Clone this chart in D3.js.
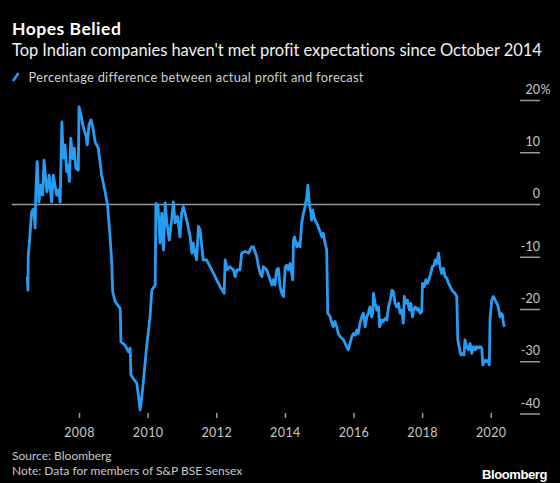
<!DOCTYPE html>
<html><head><meta charset="utf-8">
<script src="https://cdn.jsdelivr.net/npm/d3@7"></script>
<style>
html,body{margin:0;padding:0;background:#000;}
svg{display:block;background:#000;}
text{font-family:Lato,"Open Sans",sans-serif;}
</style></head>
<body><svg id="c" width="560" height="483"></svg>
<script>
const title = "Hopes Belied";
const subtitle = "Top Indian companies haven't met profit expectations since October 2014";
const legendLabel = "Percentage difference between actual profit and forecast";
const sourceText = "Source: Bloomberg";
const noteText = "Note: Data for members of S&P BSE Sensex";
const xTickYears = [2008, 2010, 2012, 2014, 2016, 2018, 2020];
const yTickValues = [20, 10, 0, -10, -20, -30, -40];

// decimal years and values (%)
const years = [2006.49,2006.51,2006.52,2006.56,2006.59,2006.62,2006.67,2006.70,2006.72,2006.74,2006.78,2006.81,2006.83,2006.89,2006.94,2006.98,2007.02,2007.06,2007.10,2007.13,2007.17,2007.20,2007.25,2007.30,2007.35,2007.40,2007.45,2007.50,2007.54,2007.59,2007.64,2007.68,2007.72,2007.76,2007.82,2007.86,2007.91,2007.98,2008.00,2008.06,2008.13,2008.20,2008.24,2008.29,2008.35,2008.40,2008.47,2008.56,2008.66,2008.76,2008.83,2008.90,2008.95,2008.98,2009.05,2009.20,2009.22,2009.34,2009.44,2009.49,2009.51,2009.58,2009.68,2009.73,2009.78,2009.82,2009.87,2009.97,2010.07,2010.12,2010.22,2010.24,2010.30,2010.36,2010.41,2010.46,2010.51,2010.56,2010.63,2010.70,2010.75,2010.80,2010.87,2010.94,2010.99,2011.04,2011.14,2011.24,2011.29,2011.33,2011.38,2011.43,2011.48,2011.53,2011.58,2011.62,2011.72,2011.82,2011.92,2012.01,2012.11,2012.23,2012.26,2012.32,2012.40,2012.50,2012.55,2012.60,2012.69,2012.74,2012.84,2012.94,2013.03,2013.08,2013.18,2013.23,2013.28,2013.33,2013.37,2013.47,2013.57,2013.62,2013.66,2013.71,2013.76,2013.81,2013.86,2013.91,2013.96,2014.01,2014.06,2014.10,2014.15,2014.20,2014.23,2014.25,2014.28,2014.35,2014.39,2014.44,2014.49,2014.54,2014.59,2014.64,2014.67,2014.71,2014.76,2014.78,2014.81,2014.86,2014.93,2015.01,2015.08,2015.12,2015.17,2015.22,2015.25,2015.32,2015.37,2015.41,2015.46,2015.51,2015.56,2015.61,2015.66,2015.71,2015.76,2015.80,2015.85,2015.90,2015.95,2016.00,2016.05,2016.10,2016.14,2016.19,2016.24,2016.29,2016.34,2016.39,2016.43,2016.48,2016.53,2016.56,2016.58,2016.63,2016.68,2016.73,2016.76,2016.83,2016.87,2016.92,2016.97,2017.02,2017.07,2017.12,2017.16,2017.21,2017.26,2017.31,2017.36,2017.41,2017.45,2017.48,2017.53,2017.57,2017.63,2017.67,2017.72,2017.75,2017.80,2017.85,2017.89,2017.94,2017.99,2018.01,2018.06,2018.11,2018.15,2018.20,2018.25,2018.30,2018.35,2018.38,2018.43,2018.48,2018.52,2018.57,2018.62,2018.67,2018.72,2018.77,2018.82,2018.87,2018.91,2018.96,2019.01,2019.04,2019.08,2019.13,2019.19,2019.22,2019.25,2019.30,2019.35,2019.40,2019.45,2019.50,2019.55,2019.59,2019.64,2019.69,2019.74,2019.77,2019.84,2019.89,2019.93,2019.96,2019.98,2020.03,2020.08,2020.13,2020.18,2020.22,2020.27,2020.29,2020.34,2020.37,2020.40];
const values = [-13.8,-16.4,-9.7,-6.8,-3.9,-1.4,-0.9,-2.6,-4.5,2.4,8.2,3.7,0.5,3.7,1.8,8.5,5.6,2.4,3.7,5.6,2.8,0.5,5.6,3.7,1.8,2.8,0.5,15.8,8.9,11.4,6.3,7.6,4.4,12.7,8.8,10.8,6.9,6.6,18.7,17.1,14.6,13.3,11.4,15.2,16.2,14.9,12.0,10.8,5.6,2.4,-0.1,-5.8,-10.9,-16.7,-18.6,-19.9,-26.3,-26.9,-28.2,-27.5,-32.6,-33.3,-34.2,-36.5,-39.3,-37.4,-34.2,-27.2,-21.5,-16.4,-15.4,0.2,-0.1,-7.4,-1.7,-8.7,0.3,-3.5,-6.8,-3.0,0.5,-3.5,-2.3,-6.2,-1.7,-0.4,-3.0,-6.2,-9.3,-7.4,-9.3,-10.6,-4.2,-4.9,-8.1,-10.6,-10.6,-11.9,-13.2,-14.4,-15.7,-17.0,-10.6,-12.5,-11.9,-12.5,-13.8,-12.5,-12.5,-9.3,-9.0,-9.3,-8.1,-8.1,-10.0,-11.9,-13.2,-13.8,-11.9,-12.5,-14.4,-15.4,-14.4,-15.4,-12.5,-12.2,-15.7,-17.0,-17.6,-11.9,-11.6,-12.5,-11.3,-13.2,-14.4,-6.8,-6.2,-8.1,-7.4,-8.1,-3.6,-1.7,-0.4,1.5,3.7,0.2,-1.7,-3.0,-1.1,-2.6,-3.6,-4.9,-6.2,-5.5,-7.4,-8.7,-20.8,-21.5,-22.7,-23.4,-22.4,-23.4,-24.7,-25.3,-25.6,-25.9,-26.6,-27.2,-27.8,-26.6,-25.3,-24.7,-25.0,-24.0,-24.7,-22.7,-21.5,-20.8,-23.4,-21.5,-20.8,-19.6,-21.5,-20.8,-17.0,-18.9,-20.2,-19.6,-23.4,-22.1,-22.4,-21.8,-22.1,-19.6,-18.3,-16.4,-16.7,-18.9,-19.6,-18.9,-20.8,-20.2,-22.7,-17.6,-18.9,-18.3,-20.2,-18.9,-21.5,-20.2,-19.6,-20.2,-19.9,-20.8,-20.5,-15.1,-15.7,-14.4,-15.1,-14.4,-13.2,-11.9,-11.6,-10.6,-11.3,-9.3,-11.9,-13.2,-12.2,-13.8,-14.1,-15.1,-15.7,-16.4,-16.7,-17.0,-17.6,-25.9,-27.2,-28.8,-28.5,-28.8,-25.9,-27.2,-27.8,-26.6,-28.5,-27.2,-27.8,-27.2,-27.5,-27.2,-27.5,-30.7,-29.8,-30.1,-29.8,-30.7,-22.1,-18.3,-17.6,-18.3,-18.9,-19.6,-21.5,-20.8,-21.1,-22.7,-23.4];

function yearToDate(y) {
  const yr = Math.floor(y);
  const start = new Date(yr, 0, 1), end = new Date(yr + 1, 0, 1);
  return new Date(+start + (y - yr) * (end - start));
}
const data = years.map((y, i) => ({ date: yearToDate(y), value: values[i] }));

const svg = d3.select("#c");
const blue = "#279cf5";
const grey = "#9a9a9a";
const labelFill = "#c8c8c8";

const x = d3.scaleTime()
  .domain([new Date(2008, 0, 1), new Date(2020, 0, 1)])
  .range([79, 490.7]);
const y = d3.scaleLinear().domain([-40, 20]).range([413.5, 100]);

// Titles
svg.append("text").attr("x", 12).attr("y", 34.5).attr("fill", "#fff")
  .attr("font-size", 17.5).attr("font-weight", 700).attr("letter-spacing", 0.5).text(title);
svg.append("text").attr("x", 12).attr("y", 55.5).attr("fill", "#f0f0f0")
  .attr("font-size", 16.5).attr("letter-spacing", -0.05).text(subtitle);

// Legend
svg.append("line").attr("x1", 13).attr("y1", 81).attr("x2", 18.5).attr("y2", 73)
  .attr("stroke", blue).attr("stroke-width", 2.5);
svg.append("text").attr("x", 28.5).attr("y", 81.5).attr("fill", "#d0d0d0")
  .attr("font-size", 12.8).attr("letter-spacing", 0.3).text(legendLabel);

// Y axis (right)
const yAxis = d3.axisLeft(y).tickValues(yTickValues.filter(v => v !== 0)).tickSize(20).tickFormat(d => d);
const yg = svg.append("g").attr("transform", "translate(540,0)").call(yAxis);
yg.select(".domain").remove();
yg.selectAll(".tick line").attr("stroke", grey).attr("stroke-width", 1.5);
yg.selectAll(".tick text").attr("x", 0).attr("dy", -6.5).attr("text-anchor", "end")
  .attr("fill", labelFill).attr("font-size", 12.5).style("font-family", "Lato, 'Open Sans', sans-serif");
// "%" hangs past the right edge of the 20 label
yg.selectAll(".tick").filter(d => d === 20).append("text")
  .attr("x", 0.5).attr("y", 0).attr("dy", -6.5).attr("text-anchor", "start")
  .attr("fill", labelFill).attr("font-size", 12.5).text("%");
// zero label
svg.append("text").attr("x", 540).attr("y", y(0) - 6.5).attr("text-anchor", "end")
  .attr("fill", labelFill).attr("font-size", 12.5).text("0");

// zero line
svg.append("line").attr("x1", 12).attr("x2", 540).attr("y1", y(0)).attr("y2", y(0))
  .attr("stroke", grey).attr("stroke-width", 1.5);

// X axis
const xAxis = d3.axisBottom(x).tickValues(xTickYears.map(v => new Date(v, 0, 1)))
  .tickSize(5).tickFormat(d3.timeFormat("%Y"));
const xg = svg.append("g").attr("transform", "translate(0,413)").call(xAxis);
xg.select(".domain").remove();
xg.selectAll(".tick line").attr("stroke", grey).attr("stroke-width", 1.5);
xg.selectAll(".tick text").attr("y", 0).attr("dy", 24).attr("fill", labelFill)
  .attr("font-size", 12.5).attr("letter-spacing", 0.4).style("font-family", "Lato, 'Open Sans', sans-serif");

// Line
const line = d3.line().x(d => x(d.date)).y(d => y(d.value)).curve(d3.curveLinear);
svg.append("path").datum(data).attr("d", line).attr("fill", "none")
  .attr("stroke", blue).attr("stroke-width", 2.8).attr("stroke-linejoin", "round");

// Footer
svg.append("text").attr("x", 12).attr("y", 460).attr("fill", labelFill)
  .attr("font-size", 12).text(sourceText);
svg.append("text").attr("x", 12).attr("y", 474.5).attr("fill", labelFill)
  .attr("font-size", 12).text(noteText);
svg.append("text").attr("x", 547).attr("y", 479).attr("text-anchor", "end").attr("fill", "#fff")
  .attr("font-size", 13).attr("font-weight", 700).attr("letter-spacing", -0.4)
  .style("font-family", "'Liberation Sans', Arial, sans-serif").text("Bloomberg");
</script></body></html>
